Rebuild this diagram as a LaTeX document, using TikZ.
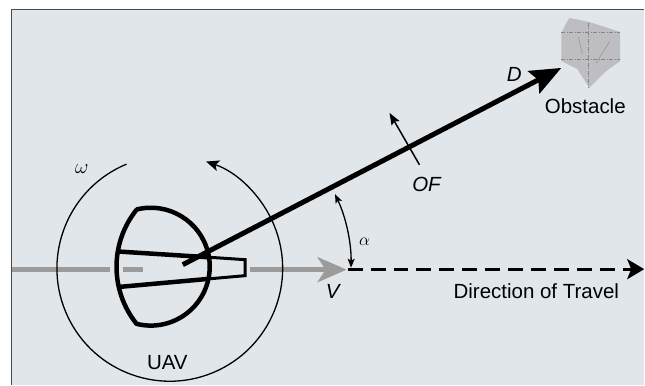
\documentclass[tikz,border=0pt]{standalone}
\usepackage{fontspec}
\setmainfont{Liberation Sans}
\usetikzlibrary{arrows.meta}
\definecolor{panel}{HTML}{E1E6EA}
\definecolor{frameline}{HTML}{4A4A4A}
\definecolor{travelgray}{HTML}{9B9B9B}
\definecolor{obstfill}{HTML}{BEBEC2}
\definecolor{obstline}{HTML}{85858A}
\begin{document}
\begin{tikzpicture}[x=1pt,y=1pt,
  lbl/.style={inner sep=0pt, font=\fontsize{20.5}{24}\selectfont},
  ilbl/.style={inner sep=0pt, font=\fontsize{20.5}{24}\selectfont\itshape},
  glbl/.style={inner sep=0pt, font=\fontsize{22}{26}\selectfont},
  body/.style={line width=4.5pt, line join=round},
  tipbody/.style={line width=3pt, line join=miter},
  thinarc/.style={line width=1.3pt},
  grayline/.style={travelgray, line width=5pt},
  travel/.style={line width=3pt, dash pattern=on 15pt off 8pt,
    -{Stealth[length=17pt,width=20pt,inset=4pt]}},
  darrow/.style={line width=5pt, -{Stealth[length=31pt,width=25pt,inset=5pt]}},
  ofarrow/.style={line width=1.5pt, -{Stealth[length=12pt,width=9pt,inset=2pt]}},
  alphaarrow/.style={line width=1.3pt,
    {Stealth[length=9pt,width=7pt,inset=2pt]}-{Stealth[length=9pt,width=7pt,inset=2pt]}},
  obstedge/.style={obstline, line width=0.9pt, dash pattern=on 4pt off 1.5pt on 1pt off 1.5pt}
]
% panel and frame
\fill[white] (0,0) rectangle (645,-385);
\fill[panel] (11.5,-9.5) rectangle (645,-385);
\draw[frameline, line width=1.6pt] (11.5,-385) -- (11.5,-9.5) -- (645,-9.5);
\useasboundingbox (0,0) rectangle (645,-385);

% key points
\coordinate (uav) at (183,-265);
\coordinate (dtip) at (562,-68);
\coordinate (g0) at (12,-270);
\coordinate (g1) at (110,-270);
\coordinate (g2) at (123,-270);
\coordinate (g3) at (143,-270);
\coordinate (g4) at (250,-270);
\coordinate (vtip) at (347,-270);
\coordinate (tstart) at (348,-269.5);
\coordinate (tend) at (645,-269.5);
\coordinate (ofa) at (420,-165);
\coordinate (ofb) at (390,-113);

% obstacle
\fill[obstfill] (570,-18) -- (590,-22) -- (621,-32) -- (621,-61) -- (606,-72)
  -- (590,-88) -- (578,-69) -- (562,-61) -- (562,-33) -- (566,-25) -- cycle;
\draw[obstedge] (562,-32) -- (621,-32);
\draw[obstedge] (562,-60) -- (621,-60);
\draw[obstedge] (589,-23) -- (589,-88);
\draw[obstline, line width=0.6pt, opacity=0.7] (579,-37) -- (583,-54);
\draw[obstline, line width=0.6pt, opacity=0.7] (610,-42) -- (597,-63);

% velocity (gray) and direction of travel
\draw[grayline] (g0) -- (g1);
\draw[grayline] (g2) -- (g3);
\draw[grayline, -{Stealth[length=29pt,width=25pt,inset=8pt]}] (g4) -- (vtip);
\draw[travel] (tstart) -- (tend);

% rotation circle
\draw[thinarc, -{Stealth[length=13pt,width=11pt,inset=3pt]}]
  (170,-268.7) ++(112.5:113) arc[start angle=112.5, end angle=431.2, radius=113];

% UAV body
\draw[body] (136.73,-209.75) arc[start angle=104, end angle=-104, radius=59]
  arc[start angle=218.7, end angle=141.3, radius=91.4] -- cycle;
\draw[body] (118,-251.8) -- (209,-257.6);
\draw[body] (119,-287.3) -- (209,-279.2);
\draw[tipbody] (208,-257.5) -- (245.5,-260) -- (245.5,-276) -- (208,-279.3);

% line of sight to the obstacle
\draw[darrow] (uav) -- (dtip);

% optic flow and angle
\draw[ofarrow] (ofa) -- (ofb);
\draw[alphaarrow] (184,-266) ++(-0.7:167.5) arc[start angle=-0.7, end angle=25.3, radius=167.5];

% labels
\node[lbl] (obstlbl) at (586,-106.5) {Obstacle};
\node[lbl] (uavlbl) at (167.5,-363.5) {UAV};
\node[lbl] (dirlbl) at (537,-292) {Direction of Travel};
\node[ilbl] (vlbl) at (333,-292) {V};
\node[ilbl] (dlbl) at (515,-75) {D};
\node[ilbl] (oflbl) at (427,-184.5) {OF};
\node[inner sep=0pt, font=\fontsize{19}{22}\selectfont] (alphalbl) at (365,-242) {$\alpha$};
\node[glbl] (omegalbl) at (82,-169) {$\omega$};
\end{tikzpicture}
\end{document}
